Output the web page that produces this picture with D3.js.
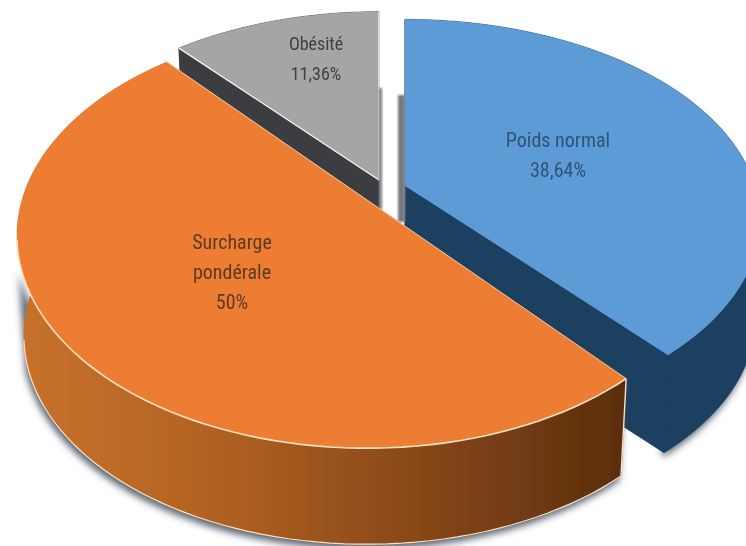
<!DOCTYPE html>
<html><head><meta charset="utf-8">
<script src="https://cdn.jsdelivr.net/npm/d3@7"></script>
<style>html,body{margin:0;padding:0;background:#fff}svg{display:block}</style>
</head><body><svg id="c" width="746" height="546"></svg>
<script>
const categories = ["Poids normal", "Surcharge pondérale", "Obésité"];
const values = [38.64, 50, 11.36];
const valueLabels = ["38,64%", "50%", "11,36%"];
const topColors = ["#5b9bd5", "#ed7d31", "#a5a5a5"];
const wallColors = ["#1f3f60", "url(#orangeWall)", "#3a3d40"];
const textColors = ["#2f5379", "#5a3a22", "#404040"];

// Geometry of each exploded slice (same order as categories)
const geometry = [
  {cx:405, cy:186, rx:350, ry:195, depth:100, scale:0.985},
  {cx:367, cy:200, rx:345, ry:206, depth:101, scale:0.98},
  {cx:379, cy:180, rx:345, ry:197, depth:98,  scale:0.975}
];
const labelLines = [["Poids normal","38,64%"],["Surcharge","pondérale","50%"],["Obésité","11,36%"]];
const labelAt = [{x:558,y:147},{x:232,y:249},{x:316,y:50}];
const labelStep = 30;
const persp = 0.17;

const svg = d3.select("#c");
const defs = svg.append("defs");
const grad = defs.append("linearGradient").attr("id","orangeWall")
  .attr("gradientUnits","userSpaceOnUse").attr("x1",15).attr("x2",630).attr("y1",0).attr("y2",0);
[[0,"#c8722b"],[0.3,"#b56323"],[0.6,"#8f4c1a"],[1,"#592d0d"]].forEach(s=>grad.append("stop").attr("offset",s[0]).attr("stop-color",s[1]));
defs.append("filter").attr("id","soft").attr("x","-10%").attr("y","-10%").attr("width","120%").attr("height","120%")
  .append("feGaussianBlur").attr("stdDeviation",0.45);
defs.append("filter").attr("id","shadow").attr("x","-10%").attr("y","-10%").attr("width","120%").attr("height","120%")
  .append("feGaussianBlur").attr("stdDeviation",3.5);
defs.append("filter").attr("id","strip").attr("x","-100%").attr("y","-10%").attr("width","300%").attr("height","120%")
  .append("feGaussianBlur").attr("stdDeviation",1);

const arcs = d3.pie().sort(null).value(d=>d).startAngle(0).endAngle(2*Math.PI)(values);
const root = svg.append("g").attr("filter","url(#soft)");

function project(g, a, r=1, bottom=false){
  const X = r*Math.sin(a), Y = -r*Math.cos(a), f = 1/(1-persp*Y), s = bottom?g.scale:1;
  return [g.cx + g.rx*X*f*s, g.cy + g.ry*Y*f*s + (bottom?g.depth:0)];
}
function rim(g, a0, a1, bottom=false){
  return d3.range(0,61).map(i=>project(g, a0+(a1-a0)*i/60, 1, bottom));
}
const line = d3.line();
const sector = (g,d,b=false)=>line([project(g,0,0,b),...rim(g,d.startAngle,d.endAngle,b)])+"Z";
const bandBetween = (g,a0,a1)=>line([...rim(g,a0,a1),...rim(g,a0,a1,true).reverse()])+"Z";
const band = (g,d)=>bandBetween(g,d.startAngle,d.endAngle);
const face = (g,a)=>line([project(g,0,0),project(g,a),project(g,a,1,true),project(g,0,0,true)])+"Z";

function drawBody(i, sel){
  const d = arcs[i], g = geometry[i];
  [sector(g,d,true), band(g,d), face(g,d.startAngle), face(g,d.endAngle)].forEach(p=>
    sel.append("path").attr("d",p).attr("fill",wallColors[i]).attr("stroke",wallColors[i]).attr("stroke-width",0.5));
}
function shadowOf(i, a0, a1){
  const g = geometry[i];
  root.append("g").attr("filter","url(#shadow)").attr("transform","translate(-2,5)")
    .append("path").attr("d",bandBetween(g,a0,a1)).attr("fill","#3d4a5c").attr("opacity",0.85);
}

// Back to front: blue, grey, orange
shadowOf(0, 1.7, arcs[0].endAngle);
drawBody(0, root);

drawBody(2, root);
root.append("path").attr("d",sector(geometry[2],arcs[2])).attr("fill",topColors[2]);
root.append("path").attr("d",line([project(geometry[2],arcs[2].startAngle),project(geometry[2],0,0),project(geometry[2],2*Math.PI)]))
  .attr("fill","none").attr("stroke","#f4f4f4").attr("stroke-width",1.4);

// Thin shaded end walls seen in the gap between grey and blue
[[geometry[2],3,-92,30],[geometry[0],-7,-91,36]].forEach(([g,dx,top,bot])=>{
  root.append("rect").attr("x",dx<0?g.cx+dx:g.cx).attr("width",Math.abs(dx))
    .attr("y",g.cy+top).attr("height",bot-top).attr("fill","#77797b").attr("filter","url(#strip)");
});
root.append("path").attr("d",sector(geometry[0],arcs[0])).attr("fill",topColors[0]);

const og = geometry[1], od = arcs[1];
shadowOf(1, od.startAngle, Math.PI*1.4);
drawBody(1, root);
root.append("path").attr("d",sector(og,od)).attr("fill",topColors[1]);
const cream = "#fbe3c8";
root.append("path").attr("d",line(rim(og,od.startAngle,Math.PI*1.44))).attr("fill","none").attr("stroke",cream).attr("stroke-width",1.6);
root.append("path").attr("d",line(rim(og,od.startAngle,Math.PI*1.44,true))).attr("fill","none").attr("stroke",cream).attr("stroke-width",1.2);
root.append("path").attr("d",line([project(og,od.startAngle),project(og,od.startAngle,1,true)])).attr("fill","none").attr("stroke",cream).attr("stroke-width",1.4);
root.append("path").attr("d",line([project(og,od.startAngle),project(og,0,0),project(og,od.endAngle)])).attr("fill","none").attr("stroke","#f7c9a3").attr("stroke-width",1);

// Labels
categories.forEach((c,i)=>{
  labelLines[i].forEach((t,j)=>{
    root.append("text").attr("x",labelAt[i].x).attr("y",labelAt[i].y+j*labelStep)
      .attr("text-anchor","middle").attr("fill",textColors[i])
      .attr("font-family","'Liberation Sans Narrow','Roboto Condensed','Liberation Sans',sans-serif")
      .attr("font-size",i===2?18:20).text(t);
  });
});
</script></body></html>
